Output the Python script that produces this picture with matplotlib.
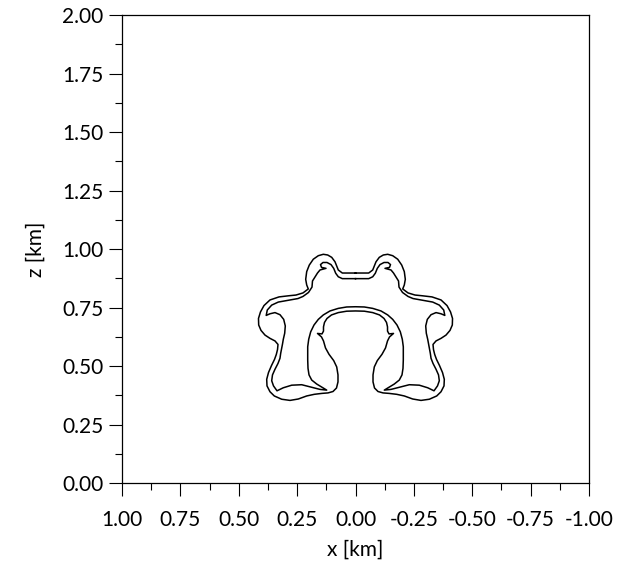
import matplotlib
matplotlib.use("Agg")
import matplotlib.pyplot as plt

plt.rcParams['font.family'] = ['Lato', 'DejaVu Sans']

# ---- data (km) ----
x_ticks = [1.00, 0.75, 0.50, 0.25, 0.00, -0.25, -0.50, -0.75, -1.00]
x_tick_labels = ["1.00", "0.75", "0.50", "0.25", "0.00", "-0.25", "-0.50", "-0.75", "-1.00"]
z_ticks = [0.00, 0.25, 0.50, 0.75, 1.00, 1.25, 1.50, 1.75, 2.00]
z_tick_labels = ["0.00", "0.25", "0.50", "0.75", "1.00", "1.25", "1.50", "1.75", "2.00"]

# outer contour level, left half (top centre -> around -> arch centre)
lvl1_left_x = [0.0, 0.0565, 0.0737, 0.0805, 0.0878, 0.1019, 0.1191, 0.1379, 0.1593, 0.1807,
               0.1979, 0.2090, 0.2133, 0.2090, 0.2022, 0.2249, 0.2548, 0.2848, 0.3276, 0.3662,
               0.3919, 0.4069, 0.4155, 0.4146, 0.4047, 0.3876, 0.3662, 0.3448, 0.3319, 0.3340,
               0.3392, 0.3469, 0.3597, 0.3726, 0.3803, 0.3790, 0.3662, 0.3478, 0.3161, 0.2805,
               0.2450, 0.2090, 0.1765, 0.1435, 0.1178, 0.0964, 0.0814, 0.0750, 0.0750, 0.0805,
               0.0934, 0.1135, 0.1285, 0.1371, 0.1456, 0.1628, 0.1435, 0.1371, 0.1371, 0.1328,
               0.1221, 0.1028, 0.0737, 0.0377, 0.0]
lvl1_left_z = [0.898, 0.898, 0.911, 0.928, 0.946, 0.965, 0.975, 0.978, 0.972, 0.957,
               0.932, 0.904, 0.871, 0.847, 0.830, 0.813, 0.804, 0.801, 0.796, 0.783,
               0.759, 0.732, 0.704, 0.676, 0.653, 0.633, 0.619, 0.608, 0.593, 0.571,
               0.550, 0.529, 0.503, 0.473, 0.444, 0.416, 0.391, 0.373, 0.359, 0.354,
               0.360, 0.373, 0.380, 0.384, 0.386, 0.392, 0.407, 0.433, 0.463, 0.497,
               0.524, 0.551, 0.578, 0.608, 0.625, 0.640, 0.638, 0.650, 0.668, 0.687,
               0.704, 0.719, 0.729, 0.735, 0.736]
# outer contour level, right half (same order: top centre -> around -> arch centre)
lvl1_right_x = [0.0, -0.0565, -0.0737, -0.0805, -0.0878, -0.1019, -0.1191, -0.1379, -0.1593, -0.1807,
                -0.1979, -0.2090, -0.2133, -0.2090, -0.2022, -0.2249, -0.2548, -0.2848, -0.3276, -0.3662,
                -0.3919, -0.4069, -0.4155, -0.4146, -0.4047, -0.3876, -0.3662, -0.3448, -0.3319, -0.3340,
                -0.3392, -0.3469, -0.3597, -0.3726, -0.3803, -0.3790, -0.3662, -0.3478, -0.3161, -0.2805,
                -0.2450, -0.2090, -0.1765, -0.1435, -0.1178, -0.0964, -0.0814, -0.0750, -0.0750, -0.0805,
                -0.0934, -0.1135, -0.1285, -0.1371, -0.1456, -0.1628, -0.1435, -0.1371, -0.1371, -0.1328,
                -0.1221, -0.1028, -0.0737, -0.0377, 0.0]
lvl1_right_z = [0.898, 0.898, 0.911, 0.928, 0.946, 0.965, 0.975, 0.978, 0.972, 0.957,
                0.932, 0.904, 0.871, 0.847, 0.830, 0.813, 0.804, 0.801, 0.796, 0.783,
                0.759, 0.732, 0.704, 0.676, 0.653, 0.633, 0.619, 0.608, 0.593, 0.571,
                0.550, 0.529, 0.503, 0.473, 0.444, 0.416, 0.391, 0.373, 0.359, 0.354,
                0.360, 0.373, 0.380, 0.384, 0.386, 0.392, 0.407, 0.433, 0.463, 0.497,
                0.524, 0.551, 0.578, 0.608, 0.625, 0.640, 0.638, 0.650, 0.668, 0.687,
                0.704, 0.719, 0.729, 0.735, 0.736]

# inner contour level, left half
lvl2_left_x = [0.0, 0.0565, 0.0737, 0.0848, 0.0934, 0.1049, 0.1221, 0.1392, 0.1499, 0.1456,
               0.1263, 0.1520, 0.1628, 0.1734, 0.1842, 0.1863, 0.2013, 0.2249, 0.2463, 0.2805,
               0.3306, 0.3589, 0.3778, 0.3824, 0.3662, 0.3448, 0.3234, 0.3075, 0.3007, 0.3032,
               0.3092, 0.3126, 0.3169, 0.3204, 0.3234, 0.3319, 0.3448, 0.3555, 0.3589, 0.3512,
               0.3362, 0.3092, 0.2732, 0.2304, 0.1876, 0.1520, 0.1233, 0.1448, 0.1662, 0.1876,
               0.1991, 0.2034, 0.2047, 0.2047, 0.2047, 0.2004, 0.1919, 0.1777, 0.1593, 0.1379,
               0.1092, 0.0737, 0.0377, 0.0]
lvl2_left_z = [0.874, 0.874, 0.882, 0.897, 0.918, 0.934, 0.943, 0.943, 0.934, 0.922,
               0.918, 0.911, 0.898, 0.881, 0.864, 0.838, 0.815, 0.798, 0.789, 0.783,
               0.774, 0.761, 0.740, 0.717, 0.724, 0.729, 0.720, 0.700, 0.672, 0.641,
               0.615, 0.595, 0.574, 0.555, 0.534, 0.512, 0.487, 0.463, 0.438, 0.416,
               0.395, 0.408, 0.419, 0.421, 0.410, 0.401, 0.398, 0.411, 0.424, 0.441,
               0.463, 0.491, 0.527, 0.555, 0.583, 0.615, 0.647, 0.676, 0.700, 0.719,
               0.736, 0.747, 0.753, 0.754]
# inner contour level, right half
lvl2_right_x = [0.0, -0.0565, -0.0737, -0.0848, -0.0934, -0.1049, -0.1221, -0.1392, -0.1499, -0.1456,
                -0.1263, -0.1520, -0.1628, -0.1734, -0.1842, -0.1863, -0.2013, -0.2249, -0.2463, -0.2805,
                -0.3306, -0.3589, -0.3778, -0.3824, -0.3662, -0.3448, -0.3234, -0.3075, -0.3007, -0.3032,
                -0.3092, -0.3126, -0.3169, -0.3204, -0.3234, -0.3319, -0.3448, -0.3555, -0.3589, -0.3512,
                -0.3362, -0.3092, -0.2732, -0.2304, -0.1876, -0.1520, -0.1233, -0.1448, -0.1662, -0.1876,
                -0.1991, -0.2034, -0.2047, -0.2047, -0.2047, -0.2004, -0.1919, -0.1777, -0.1593, -0.1379,
                -0.1092, -0.0737, -0.0377, 0.0]
lvl2_right_z = [0.874, 0.874, 0.882, 0.897, 0.918, 0.934, 0.943, 0.943, 0.934, 0.922,
                0.918, 0.911, 0.898, 0.881, 0.864, 0.838, 0.815, 0.798, 0.789, 0.783,
                0.774, 0.761, 0.740, 0.717, 0.724, 0.729, 0.720, 0.700, 0.672, 0.641,
                0.615, 0.595, 0.574, 0.555, 0.534, 0.512, 0.487, 0.463, 0.438, 0.416,
                0.395, 0.408, 0.419, 0.421, 0.410, 0.401, 0.398, 0.411, 0.424, 0.441,
                0.463, 0.491, 0.527, 0.555, 0.583, 0.615, 0.647, 0.676, 0.700, 0.719,
                0.736, 0.747, 0.753, 0.754]

# ---- figure ----
fig = plt.figure(figsize=(6.18, 5.61), dpi=100)
ax = fig.add_axes([0.1974, 0.1385, 0.7557, 0.8348])

for lx, lz, rx, rz in [(lvl1_left_x, lvl1_left_z, lvl1_right_x, lvl1_right_z),
                       (lvl2_left_x, lvl2_left_z, lvl2_right_x, lvl2_right_z)]:
    xs = lx + rx[::-1]
    zs = lz + rz[::-1]
    ax.plot(xs, zs, color='black', lw=1.1, solid_joinstyle='round')

ax.set_xlim(1.0, -1.0)
ax.set_ylim(0.0, 2.0)
ax.set_xticks(x_ticks)
ax.set_xticklabels(x_tick_labels)
ax.set_yticks(z_ticks)
ax.set_yticklabels(z_tick_labels)
ax.set_xticks([v - 0.125 for v in x_ticks[:-1]], minor=True)
ax.set_yticks([v + 0.125 for v in z_ticks[:-1]], minor=True)
ax.tick_params(which='major', direction='out', length=9.5, width=0.8, labelsize=15,
               colors='black')
ax.tick_params(axis='x', which='major', pad=10)
ax.tick_params(axis='y', which='major', pad=4)
ax.tick_params(which='minor', direction='out', length=5, width=0.8)
ax.tick_params(top=False, right=False, which='both')
for s in ax.spines.values():
    s.set_linewidth(0.9)
ax.set_xlabel("x [km]", fontsize=15, labelpad=7)
ax.set_ylabel("z [km]", fontsize=15, labelpad=12)

fig.savefig("out.png", dpi=100)
